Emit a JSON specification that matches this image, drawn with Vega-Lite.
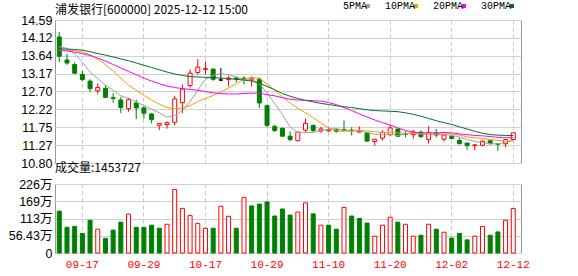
{
  "$schema": "https://vega.github.io/schema/vega-lite/v6.json",
  "background": "#ffffff",
  "padding": {"left": 7, "top": 1, "right": 0, "bottom": 0},
  "spacing": 21,
  "bounds": "flush",
  "config": {
    "view": {"stroke": "#999999", "strokeWidth": 1},
    "font": "Liberation Sans",
    "axis": {
      "domain": false,
      "ticks": false,
      "tickSize": 0,
      "gridColor": "#d0d0d0",
      "gridWidth": 1,
      "title": null,
      "labelOverlap": false,
      "labelFont": "Liberation Sans, Noto Sans CJK SC",
      "labelFontSize": 12.5,
      "labelColor": "#000000"
    }
  },
  "datasets": {
    "k": [
      {"d":"09-12","o":14.14,"h":14.27,"l":13.48,"c":13.63,"v":137,"dir":"down","vdir":"down","5PMA":13.88,"10PMA":13.79,"20PMA":13.79,"30PMA":13.83},
      {"d":"09-15","o":13.53,"h":13.70,"l":13.40,"c":13.45,"v":84,"dir":"down","vdir":"down","5PMA":13.84,"10PMA":13.79,"20PMA":13.77,"30PMA":13.82},
      {"d":"09-16","o":13.41,"h":13.47,"l":13.16,"c":13.18,"v":87,"dir":"down","vdir":"down","5PMA":13.70,"10PMA":13.78,"20PMA":13.74,"30PMA":13.81},
      {"d":"09-17","o":13.15,"h":13.24,"l":12.96,"c":13.01,"v":64,"dir":"down","vdir":"down","5PMA":13.47,"10PMA":13.74,"20PMA":13.70,"30PMA":13.79},
      {"d":"09-18","o":12.97,"h":13.02,"l":12.68,"c":12.77,"v":107,"dir":"down","vdir":"down","5PMA":13.21,"10PMA":13.67,"20PMA":13.65,"30PMA":13.75},
      {"d":"09-19","o":12.71,"h":12.91,"l":12.62,"c":12.80,"v":78,"dir":"up","vdir":"up","5PMA":13.04,"10PMA":13.55,"20PMA":13.58,"30PMA":13.70},
      {"d":"09-22","o":12.78,"h":12.86,"l":12.52,"c":12.54,"v":48,"dir":"down","vdir":"down","5PMA":12.86,"10PMA":13.41,"20PMA":13.50,"30PMA":13.66},
      {"d":"09-23","o":12.53,"h":12.65,"l":12.40,"c":12.51,"v":75,"dir":"down","vdir":"down","5PMA":12.73,"10PMA":13.24,"20PMA":13.41,"30PMA":13.61},
      {"d":"09-24","o":12.47,"h":12.55,"l":12.12,"c":12.27,"v":101,"dir":"down","vdir":"down","5PMA":12.58,"10PMA":13.05,"20PMA":13.32,"30PMA":13.56},
      {"d":"09-25","o":12.24,"h":12.52,"l":12.16,"c":12.48,"v":127,"dir":"up","vdir":"up","5PMA":12.52,"10PMA":12.86,"20PMA":13.23,"30PMA":13.51},
      {"d":"09-26","o":12.39,"h":12.48,"l":11.96,"c":12.26,"v":84,"dir":"down","vdir":"down","5PMA":12.41,"10PMA":12.73,"20PMA":13.14,"30PMA":13.45},
      {"d":"09-29","o":12.26,"h":12.30,"l":11.98,"c":12.12,"v":84,"dir":"down","vdir":"down","5PMA":12.33,"10PMA":12.59,"20PMA":13.05,"30PMA":13.39},
      {"d":"09-30","o":12.10,"h":12.12,"l":11.85,"c":11.95,"v":91,"dir":"down","vdir":"down","5PMA":12.22,"10PMA":12.47,"20PMA":12.97,"30PMA":13.33},
      {"d":"10-09","o":11.80,"h":11.86,"l":11.67,"c":11.85,"v":81,"dir":"up","vdir":"down","5PMA":12.13,"10PMA":12.36,"20PMA":12.90,"30PMA":13.27},
      {"d":"10-10","o":11.82,"h":11.90,"l":11.71,"c":11.87,"v":94,"dir":"up","vdir":"up","5PMA":12.01,"10PMA":12.27,"20PMA":12.84,"30PMA":13.21},
      {"d":"10-13","o":11.88,"h":12.58,"l":11.80,"c":12.50,"v":208,"dir":"up","vdir":"up","5PMA":12.06,"10PMA":12.24,"20PMA":12.80,"30PMA":13.16},
      {"d":"10-14","o":12.40,"h":12.88,"l":12.12,"c":12.76,"v":146,"dir":"up","vdir":"up","5PMA":12.19,"10PMA":12.26,"20PMA":12.77,"30PMA":13.12},
      {"d":"10-15","o":12.85,"h":13.28,"l":12.80,"c":13.18,"v":123,"dir":"up","vdir":"up","5PMA":12.43,"10PMA":12.32,"20PMA":12.75,"30PMA":13.09},
      {"d":"10-16","o":13.20,"h":13.55,"l":13.14,"c":13.34,"v":97,"dir":"up","vdir":"up","5PMA":12.73,"10PMA":12.43,"20PMA":12.73,"30PMA":13.08},
      {"d":"10-17","o":13.28,"h":13.49,"l":13.14,"c":13.30,"v":81,"dir":"up","vdir":"up","5PMA":13.02,"10PMA":12.51,"20PMA":12.69,"30PMA":13.07},
      {"d":"10-20","o":13.29,"h":13.30,"l":12.98,"c":13.02,"v":81,"dir":"down","vdir":"down","5PMA":13.12,"10PMA":12.59,"20PMA":12.66,"30PMA":13.06},
      {"d":"10-21","o":13.00,"h":13.32,"l":12.97,"c":13.00,"v":153,"dir":"flat","vdir":"up","5PMA":13.17,"10PMA":12.68,"20PMA":12.64,"30PMA":13.05},
      {"d":"10-22","o":13.01,"h":13.12,"l":12.83,"c":13.05,"v":120,"dir":"up","vdir":"up","5PMA":13.14,"10PMA":12.79,"20PMA":12.63,"30PMA":13.04},
      {"d":"10-23","o":13.05,"h":13.10,"l":12.94,"c":13.02,"v":81,"dir":"down","vdir":"down","5PMA":13.08,"10PMA":12.90,"20PMA":12.63,"30PMA":13.02},
      {"d":"10-24","o":13.05,"h":13.10,"l":12.88,"c":13.03,"v":182,"dir":"down","vdir":"up","5PMA":13.02,"10PMA":13.02,"20PMA":12.64,"30PMA":13.00},
      {"d":"10-27","o":13.00,"h":13.10,"l":12.83,"c":13.03,"v":154,"dir":"up","vdir":"down","5PMA":13.03,"10PMA":13.07,"20PMA":12.65,"30PMA":12.97},
      {"d":"10-28","o":13.02,"h":13.07,"l":12.26,"c":12.39,"v":160,"dir":"down","vdir":"down","5PMA":12.90,"10PMA":13.04,"20PMA":12.65,"30PMA":12.91},
      {"d":"10-29","o":12.32,"h":12.35,"l":11.75,"c":11.80,"v":167,"dir":"down","vdir":"down","5PMA":12.65,"10PMA":12.90,"20PMA":12.61,"30PMA":12.83},
      {"d":"10-30","o":11.77,"h":11.82,"l":11.62,"c":11.66,"v":121,"dir":"down","vdir":"down","5PMA":12.38,"10PMA":12.73,"20PMA":12.58,"30PMA":12.74},
      {"d":"10-31","o":11.72,"h":11.73,"l":11.49,"c":11.51,"v":144,"dir":"down","vdir":"down","5PMA":12.08,"10PMA":12.55,"20PMA":12.53,"30PMA":12.64},
      {"d":"11-03","o":11.51,"h":11.64,"l":11.38,"c":11.42,"v":124,"dir":"down","vdir":"down","5PMA":11.76,"10PMA":12.39,"20PMA":12.49,"30PMA":12.57},
      {"d":"11-04","o":11.39,"h":11.62,"l":11.38,"c":11.62,"v":134,"dir":"up","vdir":"up","5PMA":11.60,"10PMA":12.25,"20PMA":12.47,"30PMA":12.51},
      {"d":"11-05","o":11.67,"h":11.97,"l":11.62,"c":11.85,"v":164,"dir":"up","vdir":"up","5PMA":11.61,"10PMA":12.13,"20PMA":12.46,"30PMA":12.46},
      {"d":"11-06","o":11.80,"h":11.80,"l":11.60,"c":11.66,"v":128,"dir":"down","vdir":"down","5PMA":11.61,"10PMA":12.00,"20PMA":12.45,"30PMA":12.42},
      {"d":"11-07","o":11.65,"h":11.76,"l":11.60,"c":11.70,"v":91,"dir":"up","vdir":"up","5PMA":11.65,"10PMA":11.86,"20PMA":12.44,"30PMA":12.38},
      {"d":"11-10","o":11.65,"h":11.75,"l":11.62,"c":11.68,"v":91,"dir":"up","vdir":"down","5PMA":11.70,"10PMA":11.73,"20PMA":12.40,"30PMA":12.35},
      {"d":"11-11","o":11.68,"h":11.72,"l":11.60,"c":11.64,"v":78,"dir":"down","vdir":"down","5PMA":11.71,"10PMA":11.65,"20PMA":12.35,"30PMA":12.32},
      {"d":"11-12","o":11.69,"h":11.93,"l":11.66,"c":11.67,"v":149,"dir":"down","vdir":"up","5PMA":11.67,"10PMA":11.64,"20PMA":12.27,"30PMA":12.29},
      {"d":"11-13","o":11.67,"h":11.75,"l":11.53,"c":11.66,"v":121,"dir":"down","vdir":"down","5PMA":11.67,"10PMA":11.64,"20PMA":12.19,"30PMA":12.27},
      {"d":"11-14","o":11.62,"h":11.77,"l":11.60,"c":11.65,"v":113,"dir":"up","vdir":"down","5PMA":11.66,"10PMA":11.66,"20PMA":12.10,"30PMA":12.24},
      {"d":"11-17","o":11.60,"h":11.61,"l":11.37,"c":11.38,"v":98,"dir":"down","vdir":"down","5PMA":11.60,"10PMA":11.65,"20PMA":12.02,"30PMA":12.21},
      {"d":"11-18","o":11.37,"h":11.44,"l":11.26,"c":11.43,"v":55,"dir":"up","vdir":"up","5PMA":11.56,"10PMA":11.63,"20PMA":11.94,"30PMA":12.19},
      {"d":"11-19","o":11.46,"h":11.67,"l":11.40,"c":11.61,"v":91,"dir":"up","vdir":"up","5PMA":11.55,"10PMA":11.61,"20PMA":11.87,"30PMA":12.18},
      {"d":"11-20","o":11.55,"h":11.80,"l":11.51,"c":11.73,"v":117,"dir":"up","vdir":"up","5PMA":11.56,"10PMA":11.62,"20PMA":11.81,"30PMA":12.17},
      {"d":"11-21","o":11.70,"h":11.71,"l":11.50,"c":11.51,"v":101,"dir":"down","vdir":"down","5PMA":11.53,"10PMA":11.60,"20PMA":11.73,"30PMA":12.16},
      {"d":"11-24","o":11.57,"h":11.64,"l":11.48,"c":11.56,"v":94,"dir":"down","vdir":"up","5PMA":11.57,"10PMA":11.58,"20PMA":11.66,"30PMA":12.13},
      {"d":"11-25","o":11.55,"h":11.68,"l":11.44,"c":11.62,"v":55,"dir":"up","vdir":"up","5PMA":11.61,"10PMA":11.58,"20PMA":11.62,"30PMA":12.09},
      {"d":"11-26","o":11.62,"h":11.66,"l":11.46,"c":11.50,"v":58,"dir":"down","vdir":"down","5PMA":11.58,"10PMA":11.57,"20PMA":11.60,"30PMA":12.04},
      {"d":"11-27","o":11.42,"h":11.78,"l":11.31,"c":11.61,"v":94,"dir":"up","vdir":"up","5PMA":11.56,"10PMA":11.56,"20PMA":11.60,"30PMA":11.98},
      {"d":"11-28","o":11.59,"h":11.70,"l":11.48,"c":11.54,"v":78,"dir":"down","vdir":"down","5PMA":11.57,"10PMA":11.55,"20PMA":11.60,"30PMA":11.92},
      {"d":"12-01","o":11.43,"h":11.55,"l":11.37,"c":11.54,"v":68,"dir":"up","vdir":"up","5PMA":11.56,"10PMA":11.57,"20PMA":11.61,"30PMA":11.87},
      {"d":"12-02","o":11.51,"h":11.54,"l":11.43,"c":11.45,"v":49,"dir":"down","vdir":"down","5PMA":11.53,"10PMA":11.57,"20PMA":11.60,"30PMA":11.82},
      {"d":"12-03","o":11.40,"h":11.47,"l":11.30,"c":11.31,"v":64,"dir":"down","vdir":"down","5PMA":11.49,"10PMA":11.54,"20PMA":11.57,"30PMA":11.76},
      {"d":"12-04","o":11.33,"h":11.33,"l":11.15,"c":11.26,"v":43,"dir":"down","vdir":"down","5PMA":11.42,"10PMA":11.49,"20PMA":11.55,"30PMA":11.70},
      {"d":"12-05","o":11.26,"h":11.31,"l":11.14,"c":11.28,"v":55,"dir":"up","vdir":"up","5PMA":11.37,"10PMA":11.47,"20PMA":11.53,"30PMA":11.64},
      {"d":"12-08","o":11.27,"h":11.40,"l":11.24,"c":11.38,"v":87,"dir":"up","vdir":"up","5PMA":11.34,"10PMA":11.45,"20PMA":11.52,"30PMA":11.59},
      {"d":"12-09","o":11.39,"h":11.40,"l":11.30,"c":11.31,"v":58,"dir":"down","vdir":"down","5PMA":11.31,"10PMA":11.42,"20PMA":11.50,"30PMA":11.55},
      {"d":"12-10","o":11.31,"h":11.33,"l":11.13,"c":11.30,"v":69,"dir":"down","vdir":"down","5PMA":11.31,"10PMA":11.40,"20PMA":11.48,"30PMA":11.54},
      {"d":"12-11","o":11.31,"h":11.42,"l":11.22,"c":11.42,"v":107,"dir":"up","vdir":"up","5PMA":11.34,"10PMA":11.38,"20PMA":11.47,"30PMA":11.53},
      {"d":"12-12","o":11.42,"h":11.60,"l":11.42,"c":11.60,"v":145.37,"dir":"up","vdir":"up","5PMA":11.40,"10PMA":11.39,"20PMA":11.47,"30PMA":11.53}
    ]
  },
  "vconcat": [
    {
      "width": 466,
      "height": 143,
      "title": {"text": "浦发银行[600000] 2025-12-12 15:00", "anchor": "start", "frame": "group", "font": "Noto Sans CJK SC", "fontSize": 12, "fontWeight": "normal", "color": "#000000", "offset": -3},
      "data": {"name": "k"},
      "encoding": {
        "x": {
          "field": "d", "type": "ordinal", "sort": null,
          "scale": {"paddingInner": 0, "paddingOuter": 0.28, "align": 0.1},
          "axis": {"values": ["09-17","09-29","10-17","10-29","11-10","11-20","12-02","12-12"], "labels": false, "grid": true, "gridDash": [4, 3], "gridColor": "#c8c8c8", "bandPosition": 0.5}
        },
        "y": {"type": "quantitative", "scale": {"domain": [10.8, 14.59], "zero": false, "nice": false},
              "axis": {"values": [10.80, 11.27, 11.75, 12.22, 12.70, 13.17, 13.64, 14.12, 14.59], "format": ".2f", "grid": true, "labelPadding": 3, "labelOverlap": false, "labelBound": false, "labelFlush": false}}
      },
      "layer": [
        {
          "mark": {"type": "rule", "strokeWidth": 1},
          "encoding": {
            "y": {"field": "l", "type": "quantitative"},
            "y2": {"field": "h"},
            "stroke": {"field": "dir", "type": "nominal", "scale": {"domain": ["up","down","flat"], "range": ["#ff0000","#008000","#000000"]}, "legend": null}
          }
        },
        {
          "mark": {"type": "bar", "size": 4, "strokeWidth": 1},
          "encoding": {
            "y": {"field": "o", "type": "quantitative"},
            "y2": {"field": "c"},
            "stroke": {"field": "dir", "type": "nominal", "scale": {"domain": ["up","down","flat"], "range": ["#ff0000","#008000","#000000"]}, "legend": null},
            "fill": {"field": "dir", "type": "nominal", "scale": {"domain": ["up","down","flat"], "range": ["#ffffff","#008000","#000000"]}, "legend": null}
          }
        },
        {
          "transform": [{"fold": ["5PMA","10PMA","20PMA","30PMA"], "as": ["ma","val"]}],
          "mark": {"type": "line", "strokeWidth": 1},
          "encoding": {
            "y": {"field": "val", "type": "quantitative"},
            "color": {
              "field": "ma", "type": "nominal",
              "scale": {"domain": ["5PMA","10PMA","20PMA","30PMA"], "range": ["#a0a0a0","#f0a000","#ff00ff","#007030"]},
              "legend": {
                "orient": "none", "direction": "horizontal", "legendX": 308, "legendY": -19,
                "title": null, "symbolType": "square", "symbolSize": 16, "symbolStrokeWidth": 0,
                "labelFont": "Liberation Mono", "labelFontSize": 10, "labelColor": "#000000",
                "labelAlign": "right", "labelOffset": -6, "columnPadding": 14,
                "encode": {"symbols": {"update": {"fill": {"scale": "color", "field": "value"}}}}
              }
            }
          }
        }
      ]
    },
    {
      "width": 466,
      "height": 69,
      "title": {"text": "成交量:1453727", "anchor": "start", "frame": "group", "font": "Noto Sans CJK SC", "fontSize": 12, "fontWeight": "normal", "color": "#000000", "offset": 3},
      "data": {"name": "k"},
      "mark": {"type": "bar", "size": 4, "strokeWidth": 1},
      "encoding": {
        "x": {
          "field": "d", "type": "ordinal", "sort": null,
          "scale": {"paddingInner": 0, "paddingOuter": 0.28, "align": 0.1},
          "axis": {"values": ["09-17","09-29","10-17","10-29","11-10","11-20","12-02","12-12"], "grid": true, "gridDash": [4, 3], "gridColor": "#c8c8c8", "bandPosition": 0.5,
                   "labelColor": "#ff0000", "labelFont": "Liberation Mono", "labelFontSize": 11, "labelPadding": 5, "labelAngle": 0}
        },
        "y": {
          "field": "v", "type": "quantitative", "scale": {"domain": [0, 225.72], "nice": false},
          "axis": {"values": [0, 56.43, 112.86, 169.29, 225.72], "grid": true, "labelPadding": 3,
                   "labelExpr": "datum.value == 0 ? '0' : (datum.value < 100 ? format(datum.value, '.2f') : format(datum.value, '.0f')) + '万'"}
        },
        "stroke": {"field": "vdir", "type": "nominal", "scale": {"domain": ["up","down","flat"], "range": ["#ff0000","#008000","#000000"]}, "legend": null},
        "fill": {"field": "vdir", "type": "nominal", "scale": {"domain": ["up","down","flat"], "range": ["#ffffff","#008000","#000000"]}, "legend": null}
      }
    }
  ]
}
